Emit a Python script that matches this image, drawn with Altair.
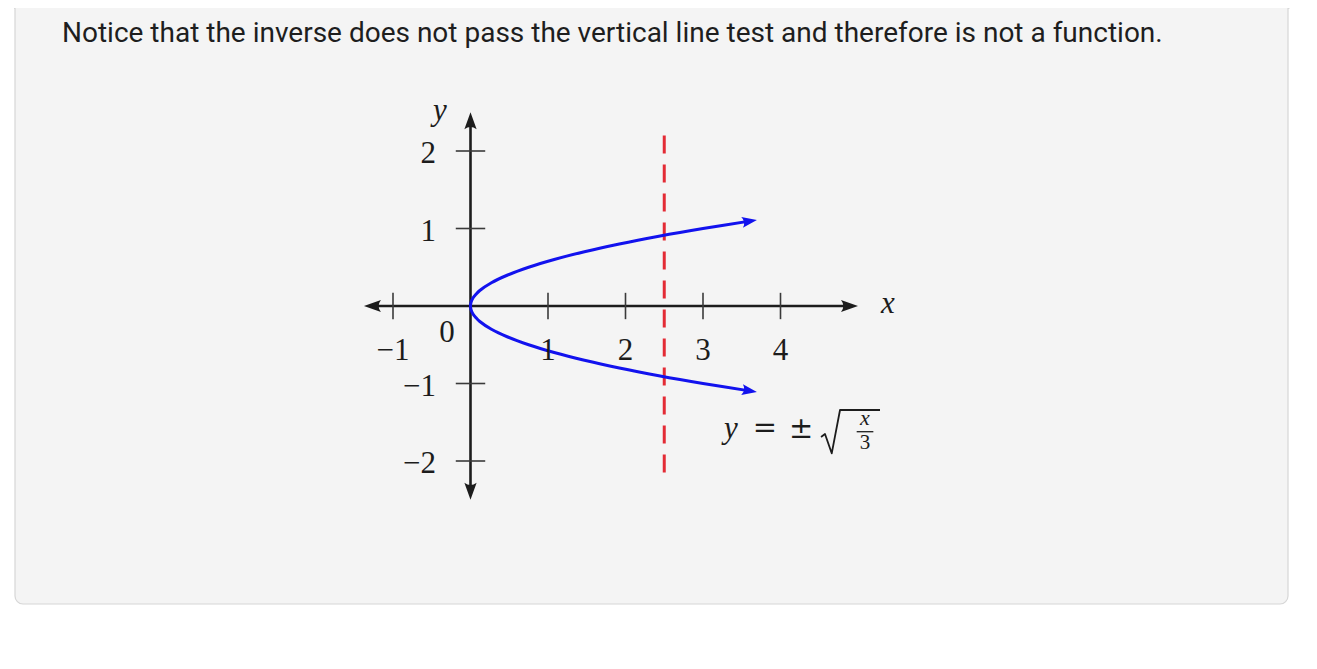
import math
import altair as alt
import pandas as pd

# ---------------- data ----------------
x_ticks = [-1, 1, 2, 3, 4]
x_tick_labels = ["−1", "1", "2", "3", "4"]
y_ticks = [-2, -1, 1, 2]
y_tick_labels = ["−2", "−1", "1", "2"]

# points read along the two branches of the sideways parabola
curve_x = [0.0, 0.008, 0.03, 0.07, 0.12, 0.27, 0.48, 0.75, 1.08, 1.47, 1.92, 2.43, 3.0, 3.6]
curve_upper_y = [0.0, 0.05, 0.10, 0.15, 0.20, 0.30, 0.40, 0.50, 0.60, 0.70, 0.80, 0.90, 1.0, 1.095]
curve_lower_y = [0.0, -0.05, -0.10, -0.15, -0.20, -0.30, -0.40, -0.50, -0.60, -0.70, -0.80, -0.90, -1.0, -1.095]

vertical_line_x = 2.5
vertical_line_y = [2.2, -2.2]

x_axis_span = [-1.375, 5.0]
y_axis_span = [-2.5, 2.5]

title_text = "Notice that the inverse does not pass the vertical line test and therefore is not a function."
origin_label = "0"
x_name = "x"
y_name = "y"
eq_parts = ["y", "=", "±", "x", "3"]

# ---------------- layout ----------------
W, H = 1300, 650
UNIT = 77.5          # pixels per unit on both axes
OX, OY = 462.5, 298  # pixel position of the origin inside the chart
X0 = -OX / UNIT
X1 = (W - OX) / UNIT
Y0 = (OY - H) / UNIT
Y1 = OY / UNIT

xs = alt.Scale(domain=[X0, X1], nice=False, zero=False)
ys = alt.Scale(domain=[Y0, Y1], nice=False, zero=False)

def X(f="x"):
    return alt.X(f"{f}:Q", scale=xs, axis=None)

def Y(f="y"):
    return alt.Y(f"{f}:Q", scale=ys, axis=None)

one = pd.DataFrame({"a": [0]})

SERIF = "Liberation Serif"
INK = "#1c1c1c"
BLUE = "#1212ee"
RED = "#e32b35"
ARROW = "M1,0 L-1,-0.72 Q-0.45,0 -1,0.72 Z"

# page background strips and panel
def strip(x1, x2, y1, y2):
    return alt.Chart(one).mark_rect(fill="white", strokeWidth=0).encode(
        x=alt.value(x1), x2=alt.value(x2), y=alt.value(y1), y2=alt.value(y2)
    )

strips = [strip(-5, 6, -5, 655), strip(1281.5, 1305, -5, 655), strip(-5, 1305, 597.5, 655)]

panel = alt.Chart(one).mark_rect(
    fill="#f4f4f4", stroke="#d6d6d6", strokeWidth=1.2, cornerRadius=8
).encode(x=alt.value(7), x2=alt.value(1280), y=alt.value(-20), y2=alt.value(596))

title = alt.Chart(one).mark_text(
    text=title_text, font="Roboto", fontSize=28, color="#1e1e1e",
    align="left", baseline="alphabetic"
).encode(x=alt.value(54), y=alt.value(34))

# axes
AR = 8.5
ax_r = AR / UNIT
x_axis = alt.Chart(pd.DataFrame({"x": [x_axis_span[0] + ax_r], "x2": [x_axis_span[1] - ax_r], "y": [0]})).mark_rule(
    color=INK, strokeWidth=2.6
).encode(x=X(), x2="x2:Q", y=Y())
y_axis = alt.Chart(pd.DataFrame({"x": [0], "y": [y_axis_span[0] + ax_r], "y2": [y_axis_span[1] - ax_r]})).mark_rule(
    color=INK, strokeWidth=2.6
).encode(x=X(), y=Y(), y2="y2:Q")

axis_arrows_df = pd.DataFrame({
    "x": [x_axis_span[0] + ax_r, x_axis_span[1] - ax_r, 0, 0],
    "y": [0, 0, y_axis_span[1] - ax_r, y_axis_span[0] + ax_r],
    "ang": [180, 0, 270, 90],
})
axis_arrows = alt.Chart(axis_arrows_df).mark_point(
    shape=ARROW, filled=True, color=INK, opacity=1, size=(2 * AR) ** 2
).encode(x=X(), y=Y(), angle=alt.Angle("ang:Q", scale=None))

tk = 0.17
xt = alt.Chart(pd.DataFrame({"x": x_ticks, "y": [-tk] * len(x_ticks), "y2": [tk] * len(x_ticks)})).mark_rule(
    color="#3a3a3a", strokeWidth=1.6
).encode(x=X(), y=Y(), y2="y2:Q")
tky = 0.19
yt = alt.Chart(pd.DataFrame({"y": y_ticks, "x": [-tky] * len(y_ticks), "x2": [tky] * len(y_ticks)})).mark_rule(
    color="#3a3a3a", strokeWidth=1.6
).encode(x=X(), x2="x2:Q", y=Y())

FS = 31
xl = alt.Chart(pd.DataFrame({"x": x_ticks, "y": [-0.58] * len(x_ticks), "t": x_tick_labels})).mark_text(
    font=SERIF, fontSize=FS, color=INK, align="center", baseline="middle"
).encode(x=X(), y=Y(), text="t:N")
yl = alt.Chart(pd.DataFrame({"y": [v - 3 / UNIT for v in y_ticks], "x": [-0.445] * len(y_ticks), "t": y_tick_labels})).mark_text(
    font=SERIF, fontSize=FS, color=INK, align="right", baseline="middle"
).encode(x=X(), y=Y(), text="t:N")
ol = alt.Chart(pd.DataFrame({"x": [-0.303], "y": [-0.348], "t": [origin_label]})).mark_text(
    font=SERIF, fontSize=FS, color=INK, align="center", baseline="middle"
).encode(x=X(), y=Y(), text="t:N")
names = alt.Chart(pd.DataFrame({"x": [5.387, -0.394], "y": [0.02, 2.52], "t": [x_name, y_name]})).mark_text(
    font=SERIF, fontSize=FS, fontStyle="italic", color=INK, align="center", baseline="middle"
).encode(x=X(), y=Y(), text="t:N")

# red dashed vertical line
vline = alt.Chart(pd.DataFrame({"x": [vertical_line_x], "y": [vertical_line_y[0]], "y2": [vertical_line_y[1]]})).mark_rule(
    color=RED, strokeWidth=3, strokeDash=[18, 11]
).encode(x=X(), y=Y(), y2="y2:Q")

# blue curve
cx = list(reversed(curve_x)) + curve_x[1:]
cy = list(reversed(curve_lower_y)) + curve_upper_y[1:]
curve_df = pd.DataFrame({"x": cx, "y": cy, "o": list(range(len(cx)))})
curve = alt.Chart(curve_df).mark_line(
    color=BLUE, strokeWidth=3, interpolate="catmull-rom"
).encode(x=X(), y=Y(), order="o:Q")

def end_angle(xa, ya):
    dx = (xa[-1] - xa[-2])
    dy = (ya[-1] - ya[-2])
    return (-math.degrees(math.atan2(dy, dx))) % 360

curve_arrows_df = pd.DataFrame({
    "x": [curve_x[-1], curve_x[-1]],
    "y": [curve_upper_y[-1], curve_lower_y[-1]],
    "ang": [end_angle(curve_x, curve_upper_y), end_angle(curve_x, curve_lower_y)],
})
curve_arrows = alt.Chart(curve_arrows_df).mark_point(
    shape=ARROW, filled=True, color=BLUE, opacity=1, size=(2 * 7.5) ** 2
).encode(x=X(), y=Y(), angle=alt.Angle("ang:Q", scale=None))

# equation y = ± sqrt(x/3)
eq_y = alt.Chart(pd.DataFrame({"x": [3.361], "y": [-1.703], "t": [eq_parts[0]]})).mark_text(
    font=SERIF, fontSize=FS, fontStyle="italic", color=INK, align="center", baseline="alphabetic"
).encode(x=X(), y=Y(), text="t:N")
eq_ops = alt.Chart(pd.DataFrame({"x": [3.80, 4.265], "y": [-1.690, -1.703], "t": eq_parts[1:3]})).mark_text(
    font="DejaVu Serif", fontSize=29, color=INK, align="center", baseline="alphabetic"
).encode(x=X(), y=Y(), text="t:N")
radical_df = pd.DataFrame({
    "x": [4.523, 4.574, 4.661, 4.768, 5.284],
    "y": [-1.690, -1.652, -1.901, -1.342, -1.342],
    "o": [0, 1, 2, 3, 4],
})
radical = alt.Chart(radical_df).mark_line(color=INK, strokeWidth=1.8, strokeJoin="round").encode(
    x=X(), y=Y(), order="o:Q"
)
frac_bar = alt.Chart(pd.DataFrame({"x": [4.983], "x2": [5.198], "y": [-1.622]})).mark_rule(
    color=INK, strokeWidth=1.3
).encode(x=X(), x2="x2:Q", y=Y())
frac_num = alt.Chart(pd.DataFrame({"x": [5.09], "y": [-1.535], "t": [eq_parts[3]]})).mark_text(
    font=SERIF, fontSize=22, fontStyle="italic", color=INK, align="center", baseline="alphabetic"
).encode(x=X(), y=Y(), text="t:N")
frac_den = alt.Chart(pd.DataFrame({"x": [5.09], "y": [-1.85], "t": [eq_parts[4]]})).mark_text(
    font=SERIF, fontSize=21, color=INK, align="center", baseline="alphabetic"
).encode(x=X(), y=Y(), text="t:N")

chart = alt.layer(
    *strips, panel, title, vline, x_axis, y_axis, xt, yt, axis_arrows, curve, curve_arrows,
    xl, yl, ol, names, eq_y, eq_ops, radical, frac_bar, frac_num, frac_den
).properties(
    width=W, height=H, padding=0, autosize=alt.AutoSizeParams(type="none")
).configure_view(stroke="transparent", strokeWidth=0, fill="transparent").configure(background="white")

chart.save("out.html", embed_options={"renderer": "svg", "actions": False})
